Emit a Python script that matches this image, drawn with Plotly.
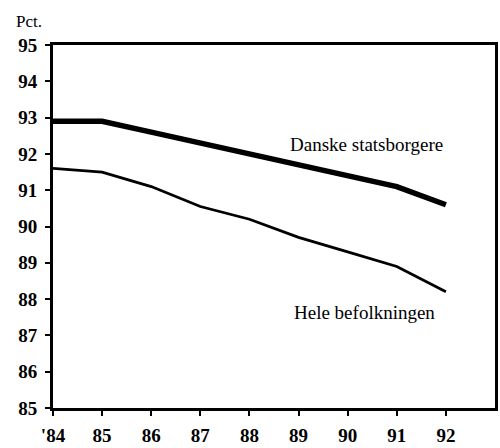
import plotly.graph_objects as go

# Andel med dansk indfødsret, pct.
years = [84, 85, 86, 87, 88, 89, 90, 91, 92]
tick_text = ["'84", "85", "86", "87", "88", "89", "90", "91", "92"]
danske = [92.9, 92.9, 92.6, 92.3, 92.0, 91.7, 91.4, 91.1, 90.6]
hele = [91.6, 91.5, 91.1, 90.55, 90.2, 89.7, 89.3, 88.9, 88.2]

serif = "Liberation Serif, Times New Roman, serif"

fig = go.Figure()
fig.add_trace(go.Scatter(x=years, y=danske, mode="lines",
                         line=dict(color="black", width=5.5),
                         name="Danske statsborgere"))
fig.add_trace(go.Scatter(x=years, y=hele, mode="lines",
                         line=dict(color="black", width=2.8),
                         name="Hele befolkningen"))

fig.add_annotation(x=90.38, y=92.25, text="Danske statsborgere", showarrow=False,
                   xanchor="center", font=dict(family=serif, size=19, color="black"))
fig.add_annotation(x=90.34, y=87.64, text="Hele befolkningen", showarrow=False,
                   xanchor="center", font=dict(family=serif, size=19, color="black"))
fig.add_annotation(x=0, y=1, xref="paper", yref="paper", text="Pct.",
                   showarrow=False, xanchor="right", yanchor="bottom",
                   xshift=-9, yshift=12,
                   font=dict(family=serif, size=17, color="black"))

fig.update_xaxes(range=[84, 93], tickvals=years, ticktext=tick_text,
                 showgrid=False, zeroline=False, automargin=False,
                 showline=True, linecolor="black", linewidth=3, mirror=True,
                 ticks="outside", ticklen=5, tickwidth=2, tickcolor="black",
                 ticklabelstandoff=3,
                 tickfont=dict(family=serif, size=19, color="black", weight="bold"))
fig.update_yaxes(range=[85, 95], dtick=1,
                 showgrid=False, zeroline=False, automargin=False,
                 showline=True, linecolor="black", linewidth=3, mirror=True,
                 ticks="outside", ticklen=5, tickwidth=2, tickcolor="black",
                 ticklabelstandoff=4,
                 tickfont=dict(family=serif, size=19, color="black", weight="bold"))

fig.update_layout(width=500, height=448, showlegend=False,
                  plot_bgcolor="white", paper_bgcolor="white",
                  margin=dict(l=53, r=5, t=45, b=40))

fig.write_html("out.html", config={"displayModeBar": False},
               post_script="document.body.style.margin='0px';")
